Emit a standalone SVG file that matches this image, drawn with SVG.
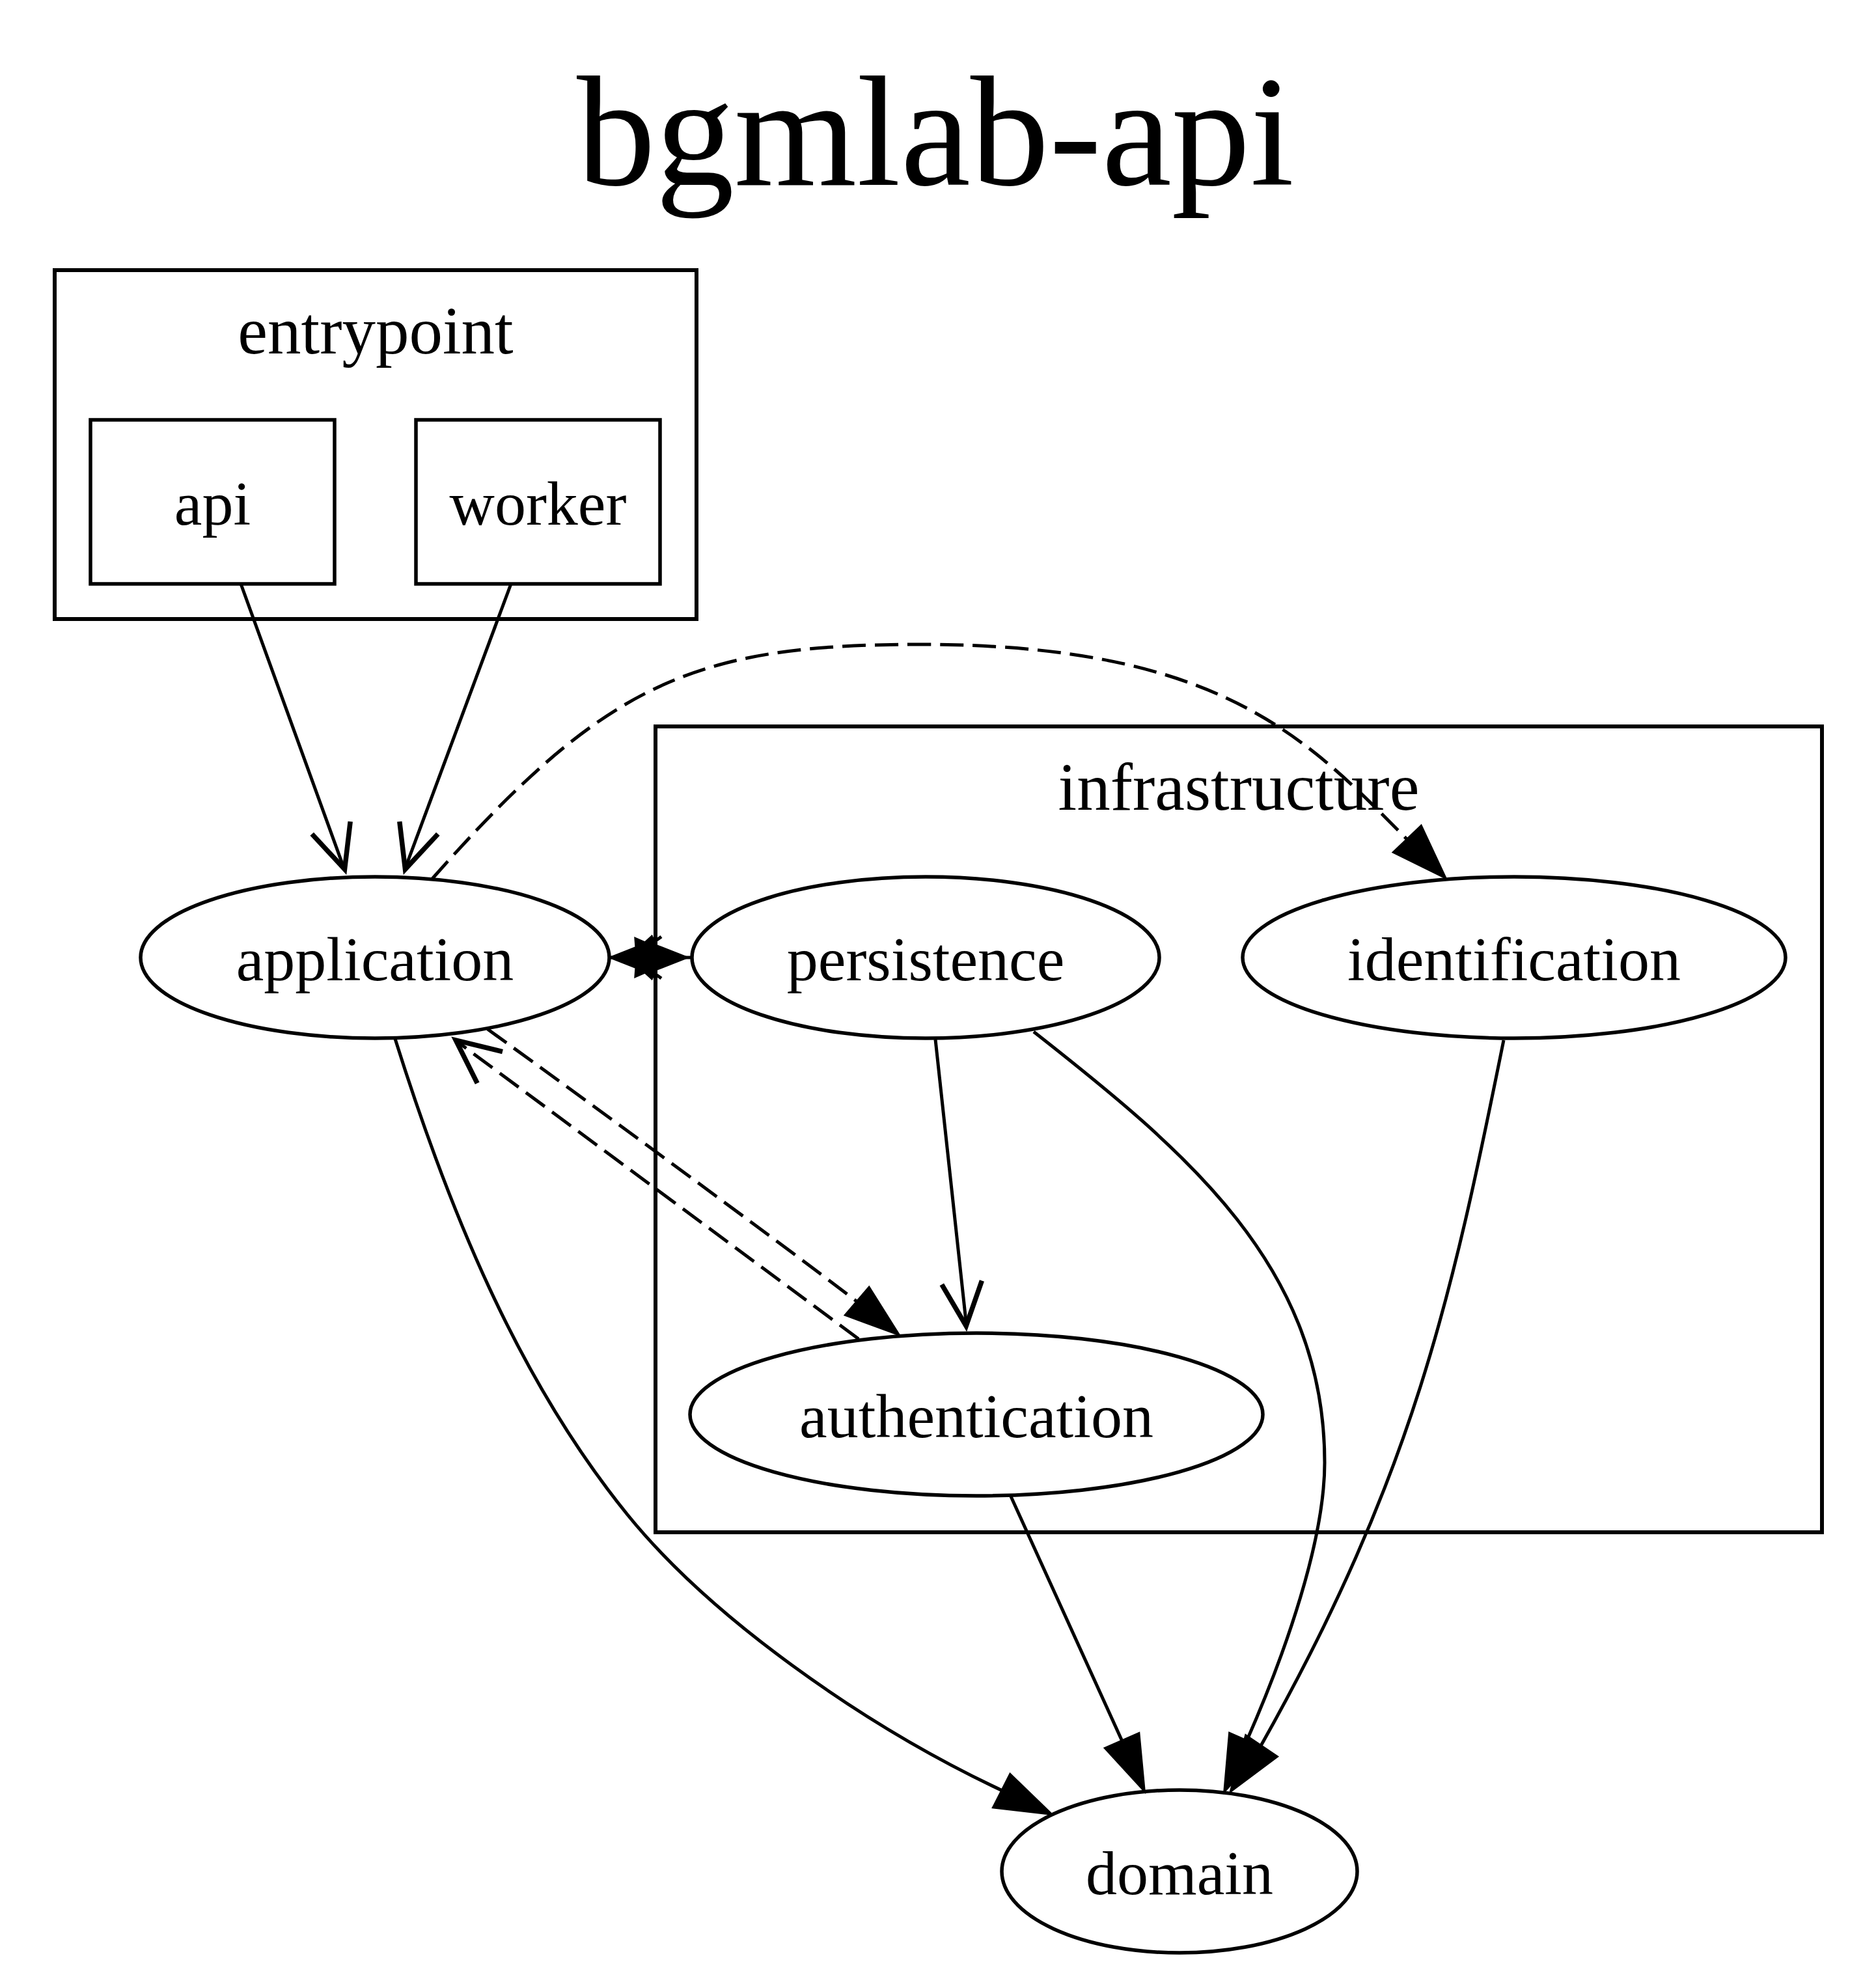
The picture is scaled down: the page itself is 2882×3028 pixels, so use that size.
<svg xmlns="http://www.w3.org/2000/svg" width="2882" height="3028" viewBox="0 0 2882 3028">
<style>
.lbl{font-family:"Liberation Serif","Times New Roman",serif;fill:#000;text-anchor:middle}
.nl{font-size:96px}
.cl{font-size:103px}
.node{fill:#fff;stroke:#000;stroke-width:5.5}
.cluster{fill:none;stroke:#000;stroke-width:6}
.edge{fill:none;stroke:#000;stroke-width:5}
.dash{stroke-dasharray:36 14}
.ah{fill:#000;stroke:#000;stroke-width:5}
.vee{fill:none;stroke:#000;stroke-width:7.5;stroke-linejoin:miter;stroke-miterlimit:10}
</style>
<rect x="0" y="0" width="2882" height="3028" fill="#fff"/>
<text class="lbl" x="1437" y="284" font-size="242">bgmlab-api</text>

<g id="cluster_entrypoint">
<rect class="cluster" x="84" y="415" width="986" height="536"/>
<text class="lbl cl" x="577" y="543">entrypoint</text>
</g>
<g id="cluster_infrastructure">
<rect class="cluster" x="1007" y="1116" width="1792" height="1238"/>
<text class="lbl cl" x="1903" y="1244">infrastructure</text>
</g>

<g id="node_api">
<rect class="node" x="139" y="645" width="375" height="252"/>
<text class="lbl nl" x="326.5" y="806">api</text>
</g>
<g id="node_worker">
<rect class="node" x="639" y="645" width="375" height="252"/>
<text class="lbl nl" x="826.5" y="806">worker</text>
</g>
<g id="node_application">
<ellipse class="node" cx="576" cy="1471" rx="360" ry="124"/>
<text class="lbl nl" x="576" y="1506">application</text>
</g>
<g id="node_persistence">
<ellipse class="node" cx="1422" cy="1471" rx="359" ry="124"/>
<text class="lbl nl" x="1422" y="1506">persistence</text>
</g>
<g id="node_identification">
<ellipse class="node" cx="2326" cy="1471" rx="417" ry="124"/>
<text class="lbl nl" x="2326" y="1506">identification</text>
</g>
<g id="node_authentication">
<ellipse class="node" cx="1500" cy="2173" rx="440" ry="125"/>
<text class="lbl nl" x="1500" y="2208">authentication</text>
</g>
<g id="node_domain">
<ellipse class="node" cx="1812" cy="2875" rx="273" ry="125"/>
<text class="lbl nl" x="1812" y="2910">domain</text>
</g>

<g id="connectors">
<!-- api -> application -->
<path class="edge" d="M370,897 L527,1330"/>
<polyline class="vee" points="479.2,1281.3 529.5,1335.4 538.2,1262.1"/>
<!-- worker -> application -->
<path class="edge" d="M785,897 L624,1330"/>
<polyline class="vee" points="613.8,1262.1 622.5,1335.4 672.8,1281.3"/>
<!-- application -> identification (dashed) -->
<path class="edge dash" d="M664,1350 C929.2,1050.4 1063,990 1413,990 C1870,990 2005,1130 2162,1290"/>
<polygon class="ah" points="2219,1347 2142,1309 2183,1270"/>
<!-- persistence -> application -->
<path class="edge" d="M1063,1471 L1050,1471 M942,1471 L935,1471"/>
<polygon class="ah" stroke-width="1" points="940,1471 978,1456 977,1443 991,1449 1001,1440 1007,1453 1053,1471 1007,1489 1001,1502 991,1493 977,1499 978,1486"/>
<path class="edge" d="M1009,1444 L1016,1439 M1009,1498 L1016,1503"/>
<!-- application -> authentication (dashed) -->
<path class="edge dash" d="M749,1581 C900,1690 1180,1895 1317,2000"/>
<polygon class="ah" points="1379,2049 1300,2020 1335,1979"/>
<!-- authentication -> application (dashed) -->
<path class="edge dash" d="M1319,2057 L702,1600"/>
<polyline class="vee" points="772,1615.7 700.2,1598 733.2,1664.1"/>
<!-- persistence -> authentication -->
<path class="edge" d="M1437,1597 L1484,2030"/>
<polyline class="vee" points="1446.8,1973.4 1484.2,2037 1508.4,1967.4"/>
<!-- application -> domain -->
<path class="edge" d="M607,1596 C688,1853.6 793.9,2117.2 964,2327 C1090,2482.4 1322.8,2649 1540,2751"/>
<polygon class="ah" points="1613,2786 1527,2776 1552,2727"/>
<!-- authentication -> domain -->
<path class="edge" d="M1553,2299 L1724,2675"/>
<polygon class="ah" points="1757,2749 1699,2686 1749,2664"/>
<!-- persistence -> domain -->
<path class="edge" d="M1588,1585 C1825,1771 2035,1947 2035,2247 C2035,2367 1975,2538.5 1915,2675"/>
<polygon class="ah" points="1882,2750 1889.5,2663.8 1940.5,2686.2"/>
<!-- identification -> domain -->
<path class="edge" d="M2310,1598 C2230.8,1990 2172.2,2264.4 1937,2682"/>
<polygon class="ah" points="1892,2750 1914.3,2667.3 1960.7,2698.7"/>
</g>
</svg>
